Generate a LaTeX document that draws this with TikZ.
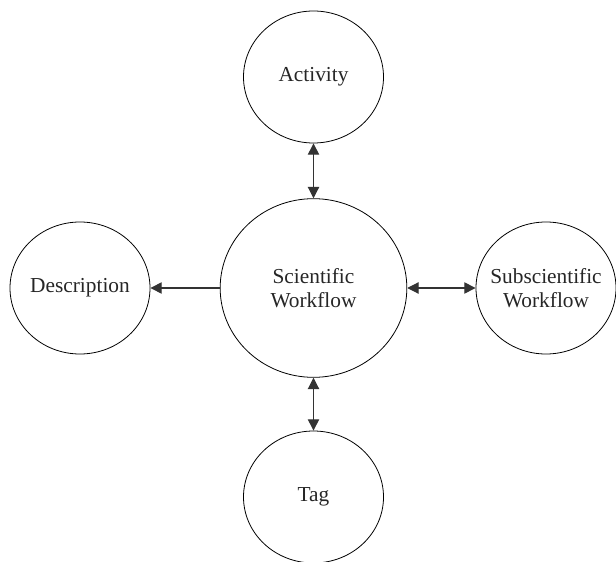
\documentclass[tikz,border=0pt]{standalone}
\usepackage{fontspec}
\setmainfont{Liberation Serif}
\usetikzlibrary{shapes.geometric,arrows.meta}

\begin{document}
\begin{tikzpicture}[x=0.75pt,y=0.75pt,
   bubble/.style={draw, ellipse, line width=0.6pt, inner ysep=0pt, inner xsep=-8pt,
      align=center, minimum width=105pt, minimum height=99pt, text=black!85,
      font=\fontsize{16}{17.5}\selectfont},
   bigbubble/.style={bubble, minimum width=140pt, minimum height=134pt},
   link/.style={line width=0.8pt, black!80, -{Triangle[length=8.5pt,width=8.5pt]}},
   dlink/.style={link, {Triangle[length=8.5pt,width=8.5pt]}-{Triangle[length=8.5pt,width=8.5pt]}}]
   \useasboundingbox (0,0) rectangle (616,561);
   \node[bigbubble] (wf) at (313.5,273) {Scientific\\Workflow};
   \node[bubble] (act) at (313.5,484) {Activity};
   \node[bubble] (desc) at (80,273) {Description};
   \node[bubble] (sub) at (546,273) {Subscientific\\Workflow};
   \node[bubble] (tag) at (313.5,64) {Tag};
   % connections
   \draw[dlink] (act) -- (wf);
   \draw[link] (wf) -- (desc);
   \draw[dlink] (wf) -- (sub);
   \draw[dlink] (wf) -- (tag);
\end{tikzpicture}
\end{document}
